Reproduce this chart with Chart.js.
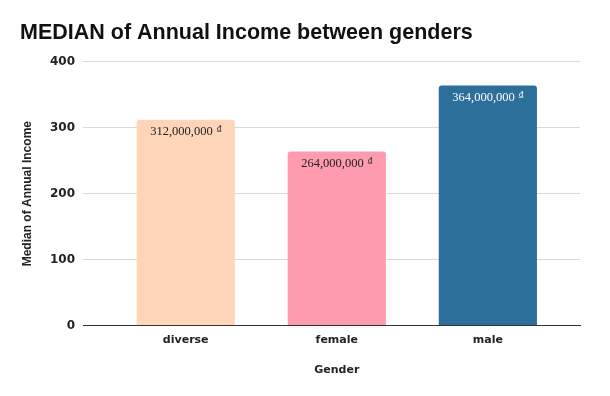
<!DOCTYPE html>
<html lang="en">
<head>
<meta charset="UTF-8">
<title>MEDIAN of Annual Income between genders</title>
<script src="https://cdn.jsdelivr.net/npm/chart.js"></script>
<style>
  html, body { margin: 0; padding: 0; background: #fff; }
  #wrap { width: 610px; height: 396px; }
</style>
</head>
<body>
<div id="wrap"><canvas id="incomeChart" width="610" height="396"></canvas></div>
<script>
// data (values in millions)
const genders = ['diverse', 'female', 'male'];
const medianIncome = [312, 264, 364];
const yTicks = [0, 100, 200, 300, 400];
const barColors = ['#ffd5b9', '#ff9bae', '#2c6f9a'];
const labelColors = ['#222222', '#222222', '#ffffff'];

// write the value in full inside the top of each bar, plus the axis title under the middle bar
const barLabels = {
    id: 'barLabels',
    afterDatasetsDraw(chart) {
        const ctx = chart.ctx;
        const meta = chart.getDatasetMeta(0);
        ctx.save();
        ctx.textBaseline = 'middle';
        meta.data.forEach((bar, i) => {
            const full = (medianIncome[i] * 1000000).toLocaleString('en-US');
            ctx.font = '12.5px "Liberation Serif", "Times New Roman", serif';
            const w1 = ctx.measureText(full).width;
            ctx.font = '9px "Liberation Serif", "Times New Roman", serif';
            const w2 = ctx.measureText('\u20ab').width;
            const x0 = bar.x - (w1 + 4 + w2) / 2;
            ctx.fillStyle = labelColors[i];
            ctx.textAlign = 'left';
            ctx.font = '12.5px "Liberation Serif", "Times New Roman", serif';
            ctx.fillText(full, x0, bar.y + 12);
            ctx.font = '9px "Liberation Serif", "Times New Roman", serif';
            ctx.fillText('\u20ab', x0 + w1 + 4, bar.y + 9);
        });
        // x axis title, centred on the middle category
        const xs = chart.scales.x;
        ctx.fillStyle = '#222';
        ctx.textAlign = 'center';
        ctx.font = 'bold 11px "DejaVu Sans", Verdana, sans-serif';
        ctx.fillText('Gender', xs.getPixelForValue(1), 370);
        ctx.restore();
    }
};

const ctx = document.getElementById('incomeChart').getContext('2d');
new Chart(ctx, {
    type: 'bar',
    data: {
        datasets: [{
            label: 'Median of Annual Income',
            data: medianIncome.map((v, i) => ({ x: i, y: v })),
            backgroundColor: barColors,
            borderRadius: { topLeft: 3, topRight: 3 },
            borderSkipped: 'bottom',
            categoryPercentage: 1,
            barPercentage: 0.65
        }]
    },
    options: {
        responsive: false,
        animation: false,
        layout: { padding: { left: 20, right: 30, top: 0, bottom: 9 } },
        plugins: {
            legend: { display: false },
            tooltip: { enabled: false },
            title: {
                display: true,
                text: 'MEDIAN of Annual Income between genders',
                align: 'start',
                color: '#111',
                font: { family: '"Liberation Sans", Arial, sans-serif', size: 21.5, weight: 'bold' },
                padding: { top: 20, bottom: 16 }
            }
        },
        scales: {
            x: {
                type: 'linear',
                min: -0.68,
                max: 2.61,
                offset: false,
                afterBuildTicks(axis) {
                    axis.ticks = genders.map((g, i) => ({ value: i }));
                },
                grid: { display: false, drawTicks: false },
                border: { color: '#333', width: 1 },
                ticks: {
                    color: '#222',
                    padding: 8,
                    callback: (v) => genders[v],
                    font: { family: '"DejaVu Sans", Verdana, sans-serif', size: 11, weight: 'bold' }
                },
                title: {
                    display: true,
                    text: ' ',
                    padding: { top: 15 },
                    font: { size: 11 }
                }
            },
            y: {
                min: 0,
                max: 400,
                afterBuildTicks(axis) {
                    axis.ticks = yTicks.map(v => ({ value: v }));
                },
                afterFit(axis) { axis.width = 63; },
                grid: { color: '#d9d9d9', drawTicks: false },
                border: { display: false },
                ticks: {
                    color: '#222',
                    padding: 8,
                    font: { family: '"DejaVu Sans", Verdana, sans-serif', size: 12, weight: 'bold' }
                },
                title: {
                    display: true,
                    text: 'Median of Annual Income',
                    color: '#222',
                    padding: { top: 0, bottom: 2 },
                    font: { family: '"Liberation Sans", Arial, sans-serif', size: 12, weight: 'bold' }
                }
            }
        }
    },
    plugins: [barLabels]
});
</script>
</body>
</html>
